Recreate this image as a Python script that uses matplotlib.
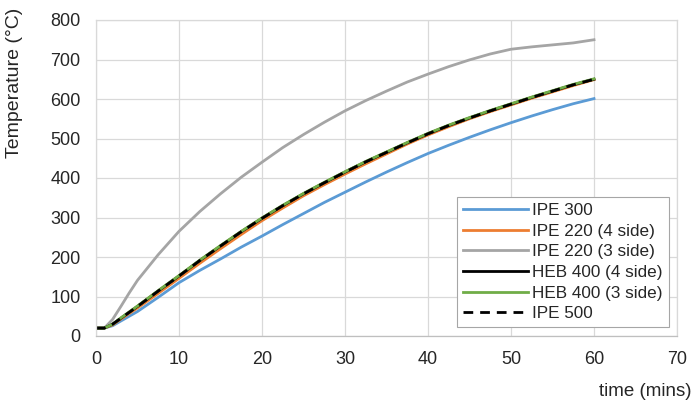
import numpy as np
import matplotlib.pyplot as plt

plt.rcParams['font.family'] = ['Liberation Sans', 'DejaVu Sans']

# time in minutes and section temperatures in degC
time = [0, 1, 2, 3, 4, 5, 7.5, 10, 12.5, 15, 17.5, 20, 22.5, 25, 27.5, 30, 32.5, 35,
        37.5, 40, 42.5, 45, 47.5, 50, 52.5, 55, 57.5, 60]
ipe300 = [20, 20, 26, 38, 50, 62, 98, 135, 166, 195, 225, 253, 282, 310, 338, 364, 390, 415,
          439, 462, 483, 503, 522, 540, 557, 573, 588, 601]
ipe220_4 = [20, 20, 28, 43, 57, 71, 108, 146, 184, 221, 257, 292, 324, 355, 383, 410, 436, 461,
            486, 509, 530, 550, 568, 585, 602, 618, 634, 649]
ipe220_3 = [20, 20, 42, 75, 109, 141, 206, 265, 315, 360, 402, 440, 477, 510, 541, 570, 596, 620,
            643, 663, 682, 699, 714, 726, 732, 737, 742, 750]
heb400_4 = [20, 20, 30, 45, 60, 75, 114, 152, 191, 228, 264, 298, 330, 360, 388, 415, 441, 465,
            489, 512, 533, 552, 570, 587, 604, 620, 636, 650]
heb400_3 = [20, 20, 30, 46, 61, 76, 115, 153, 192, 229, 265, 299, 331, 361, 389, 416, 442, 466,
            490, 513, 534, 553, 571, 588, 605, 621, 637, 651]
ipe500 = [20, 20, 30, 45, 60, 75, 114, 152, 191, 228, 264, 298, 330, 360, 388, 415, 441, 465,
          489, 512, 533, 552, 570, 587, 604, 620, 636, 650]

fig = plt.figure(figsize=(6.93, 4.0), dpi=100)
ax = fig.add_axes([96/693, 1 - 336/400, 581/693, 316/400])

lw = 2.0
ax.plot(time, ipe300, color='#5b9bd5', lw=lw, label='IPE 300')
ax.plot(time, ipe220_4, color='#ed7d31', lw=lw, label='IPE 220 (4 side)')
ax.plot(time, ipe220_3, color='#a5a5a5', lw=lw, label='IPE 220 (3 side)')
ax.plot(time, heb400_4, color='black', lw=lw, label='HEB 400 (4 side)')
ax.plot(time, heb400_3, color='#70ad47', lw=lw, label='HEB 400 (3 side)')
ax.plot(time, ipe500, color='black', lw=lw, dashes=(3.5, 2.5), label='IPE 500')

ax.set_xlim(0, 70)
ax.set_ylim(0, 800)
ax.set_xticks(range(0, 71, 10))
ax.set_yticks(range(0, 801, 100))
ax.grid(True, color='#d9d9d9', lw=0.9)
ax.set_axisbelow(True)
ax.tick_params(length=0, labelsize=13, colors='#262626', pad=11)
for s in ax.spines.values():
    s.set_color('#d9d9d9')
    s.set_linewidth(0.9)
ax.spines['bottom'].set_color('#bfbfbf')

ax.set_ylabel('Temperature (\u00b0C)', fontsize=14, color='#262626')
ax.yaxis.set_label_coords(-0.126, 0.8)
fig.text(0.998, 1 - 391/400, 'time (mins)', ha='right', va='center',
         fontsize=13.5, color='#262626')

leg = ax.legend(loc='lower right', bbox_to_anchor=(0.986, 0.028), fontsize=12.3,
                fancybox=False, framealpha=1, edgecolor='#a6a6a6',
                handlelength=3.8, handletextpad=0.25, labelspacing=0.33,
                borderpad=0.35, borderaxespad=0)
leg.get_frame().set_linewidth(0.8)
for t in leg.get_texts():
    t.set_color('#262626')

fig.savefig('out.png', dpi=100)
